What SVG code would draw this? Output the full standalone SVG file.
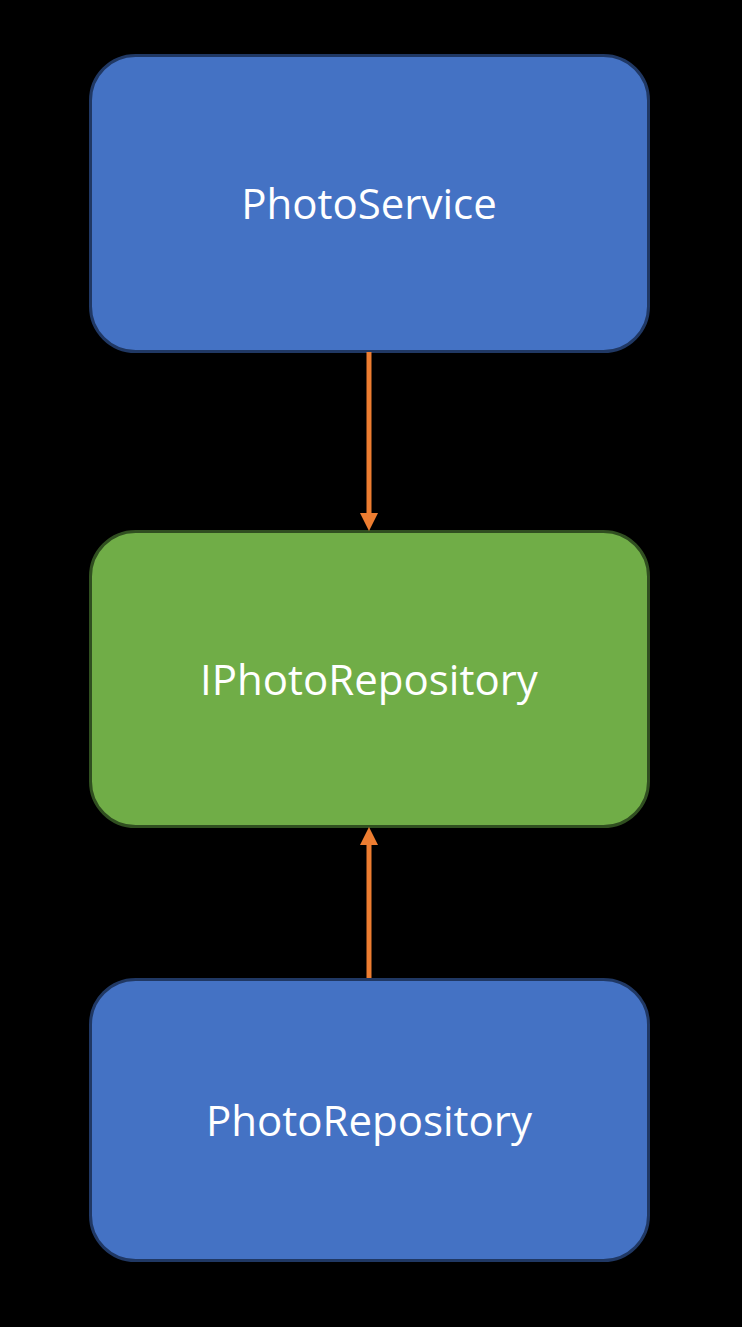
<svg xmlns="http://www.w3.org/2000/svg" width="742" height="1327" viewBox="0 0 742 1327">
<style>
.blue{fill:#4472c4;stroke:#203864;stroke-width:3}
.green{fill:#70ad47;stroke:#304f20;stroke-width:3}
.lbl{font-family:"Open Sans","Noto Sans",sans-serif;font-size:42px;fill:#ffffff;text-anchor:middle}
.conn{stroke:#ed7d31;stroke-width:5;fill:none}
.head{fill:#ed7d31}
</style>
<rect width="742" height="1327" fill="#000000"/>
<g id="photoservice">
<rect class="blue" x="90.5" y="55.5" width="558" height="296" rx="45" ry="45"/>
<text class="lbl" x="369" y="219">PhotoService</text>
</g>
<g id="iphotorepository">
<rect class="green" x="90.5" y="531.5" width="558" height="295" rx="45" ry="45"/>
<text class="lbl" x="369" y="695">IPhotoRepository</text>
</g>
<g id="photorepository">
<rect class="blue" x="90.5" y="979.5" width="558" height="281" rx="45" ry="45"/>
<text class="lbl" x="369" y="1136">PhotoRepository</text>
</g>
<g id="connectors">
<line class="conn" x1="369" y1="352" x2="369" y2="515"/>
<path class="head" d="M360,513 L378,513 L369,531 Z"/>
<line class="conn" x1="369" y1="978" x2="369" y2="842"/>
<path class="head" d="M360,845 L378,845 L369,827 Z"/>
</g>
</svg>
